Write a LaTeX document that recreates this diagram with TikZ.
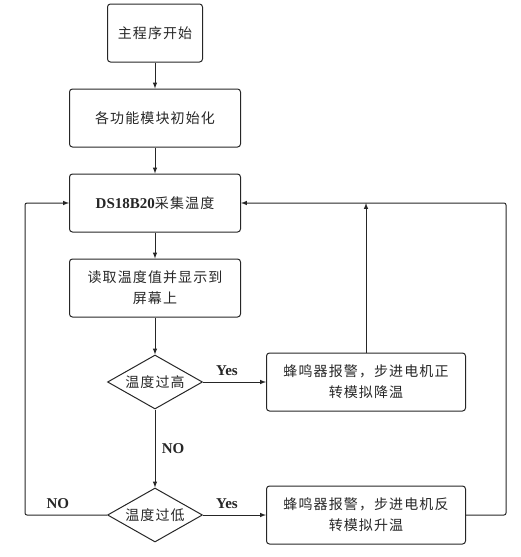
\documentclass[tikz,border=0pt]{standalone}
\usepackage{fontspec}
\setmainfont{Liberation Serif}
\newfontfamily\cjk[LetterSpace=8]{Noto Sans CJK SC}
\usepackage{tikz}
\usetikzlibrary{shapes.geometric}

\begin{document}
\begin{tikzpicture}[x=1pt, y=-1pt, line width=1pt, black!85,
  box/.style={draw, rounded corners=3pt, minimum height=58pt, align=center, inner sep=2pt, font=\cjk\fontsize{14}{21}\selectfont},
  dia/.style={draw, diamond, aspect=1.75, minimum width=95pt, minimum height=54pt, inner sep=0pt, font=\cjk\fontsize{14}{21}\selectfont},
  lab/.style={font=\fontsize{15}{17}\selectfont\bfseries}]
\useasboundingbox (0,0) rectangle (521,557);
\node[box, minimum width=95pt] (start) at (155, 33) {主程序开始};
\node[box, minimum width=171pt] (init) at (155, 118) {各功能模块初始化};
\node[box, minimum width=171pt] (ds) at (155, 203) {{\rmfamily\bfseries\fontsize{15}{18}\selectfont DS18B20}采集温度};
\node[box, minimum width=171pt] (read) at (155, 288) {读取温度值并显示到\\屏幕上};
\node[dia] (high) at (155, 382) {温度过高};
\node[dia] (low) at (155, 515) {温度过低};
\node[box, minimum width=199pt] (cool) at (366, 382) {蜂鸣器报警，步进电机正\\转模拟降温};
\node[box, minimum width=199pt] (heat) at (366, 515) {蜂鸣器报警，步进电机反\\转模拟升温};
\coordinate (lft) at (25, 203);
\coordinate (rgt) at (506, 203);
\draw[-latex] (start) -- (init);
\draw[-latex] (init) -- (ds);
\draw[-latex] (ds) -- (read);
\draw[-latex] (read) -- (high);
\draw[-latex] (high) -- node[lab, right=3pt, pos=0.5] {NO} (low);
\draw[-latex] (high) -- node[lab, above=3pt, pos=0.38] {Yes} (cool);
\draw[-latex] (low) -- node[lab, above=3pt, pos=0.38] {Yes} (heat);
\draw[-latex] (cool) -- (cool.north |- ds);
\draw[-latex, rounded corners=2pt] (heat.east) -| (rgt) -- (ds.east);
\draw[-latex, rounded corners=2pt] (low.west) -| node[lab, above=3pt, pos=0.3] {NO} (lft) -- (ds.west);
\end{tikzpicture}
\end{document}
